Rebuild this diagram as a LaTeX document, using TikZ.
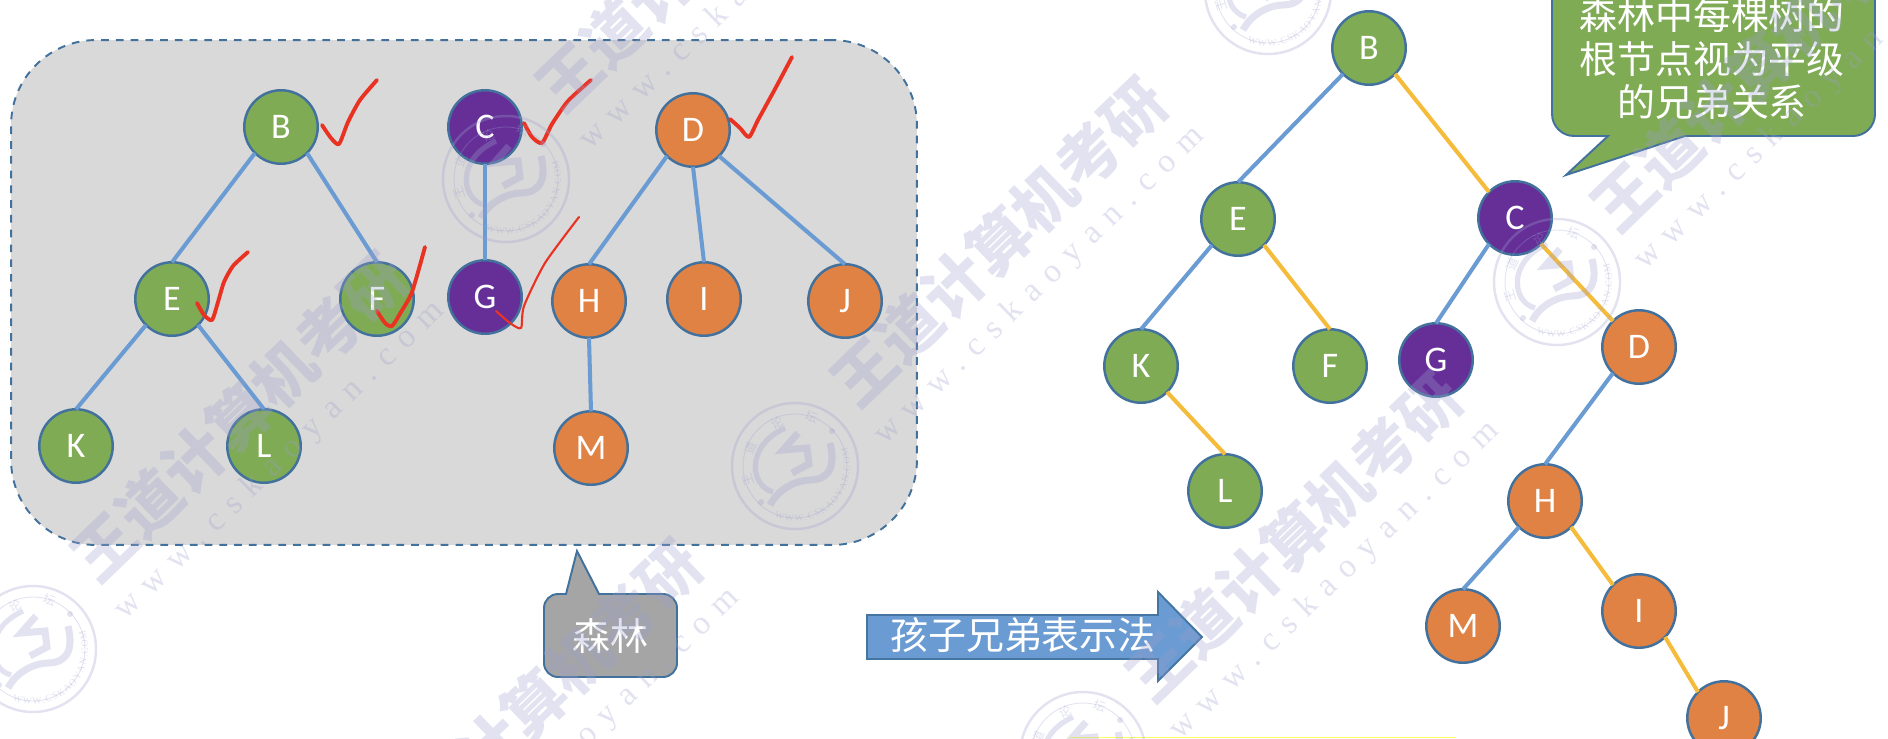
\documentclass[tikz,border=0pt]{standalone}
\usepackage{fontspec}
\setmainfont{Carlito}
\newfontfamily\cjk{Noto Sans CJK SC}
\newfontfamily\markfont[LetterSpace=35]{Liberation Serif}
\newfontfamily\sealfont{Liberation Serif}
\usepackage{xcolor}
\usepackage{tikz}
\usetikzlibrary{decorations.text}
\definecolor{nodeline}{RGB}{65,113,156}
\definecolor{leafgreen}{RGB}{127,171,85}
\definecolor{rootpurple}{RGB}{102,47,152}
\definecolor{treeorange}{RGB}{223,130,68}
\definecolor{childblue}{RGB}{106,155,210}
\definecolor{siblingyellow}{RGB}{244,188,58}
\definecolor{panelgrey}{RGB}{217,217,217}
\definecolor{calloutgrey}{RGB}{165,165,165}
\definecolor{tickred}{RGB}{234,50,35}
\definecolor{markblue}{RGB}{158,160,205}
\definecolor{boxyellow}{RGB}{255,255,100}
\tikzset{
  tnode/.style={circle, draw=nodeline, line width=1.4pt, minimum size=1.47cm, inner sep=0pt, outer sep=0pt, text=white, font=\fontsize{20.5}{20}\selectfont},
  gn/.style={tnode, fill=leafgreen},
  pn/.style={tnode, fill=rootpurple},
  on/.style={tnode, fill=treeorange},
  child/.style={draw=childblue, line width=2.3pt},
  sibling/.style={draw=siblingyellow, line width=2.3pt},
  redtick/.style={draw=tickred, line width=2.2pt, line cap=round, line join=round},
  callout/.style={draw=nodeline, line width=1.1pt},
  calltext/.style={text=white, font=\cjk\fontsize{21.6}{25}\selectfont, align=center, inner sep=0pt},
}
% one watermark seal: name, x, y
\newcommand{\sealmark}[3]{
  \draw[markblue, line width=1.4pt] (#2,#3) circle [radius = 63];
  \draw[markblue, line width=.5pt] (#2,#3) circle [radius = 52];
  \draw[markblue, line width=3pt] (#2-10,#3-38) .. controls (#2-50,#3-20) and (#2-45,#3+20) .. (#2-22,#3+26);
  \draw[markblue, line width=4pt] (#2+35,#3-23) .. controls (#2+42,#3+5) and (#2+30,#3+14) .. (#2+15,#3+14) .. controls (#2+5,#3+14) and (#2-15,#3+20) .. (#2-25,#3+39);
  \draw[markblue, line width=4pt] (#2+3,#3-33) -- (#2-12,#3-16) -- (#2+12,#3-18) -- (#2+14,#3-2) -- (#2-3,#3+7);
  \fill[markblue] (#2+37,#3-35) circle [radius = 3];
  \fill[markblue] (#2-34,#3+36) circle [radius = 3];
  \foreach \c/\dx/\dy/\r in {wang/-47/14/107, dao/-45/-18/68, lun/-18/-43/23, tan/17/-49/-19}{
    \node[rotate=\r, text=markblue, inner sep=0pt, font=\cjk\fontsize{7}{7}\selectfont] (#1\c) at (#2+\dx,#3+\dy) {\ifx\c\wangname 王\fi\ifx\c\daoname 道\fi\ifx\c\lunname 论\fi\ifx\c\tanname 坛\fi};
  }
  \path[postaction={decorate, decoration={text along path, text align={fit to path}, text color=markblue,
    text={|\sealfont\fontsize{5.5}{6}\selectfont|WWW.CSKAOYAN.COM}}}] (#2,#3) ++(112:55) arc [start angle=112, end angle=-20, radius=55];
}
\def\wangname{wang}\def\daoname{dao}\def\lunname{lun}\def\tanname{tan}
\begin{document}
\begin{tikzpicture}[x=.02cm, y=-.02cm]
\clip (0,0) rectangle (1888,738);

% the forest
\node[draw=nodeline, line width=1.1pt, fill=panelgrey, dash pattern=on 4.4pt off 4pt, rounded corners=1.7cm, minimum width=18.12cm, minimum height=10.1cm, inner sep=0pt] (forest) at (464,292.5) {};

\node[gn] (lB) at (281,127) {B};
\node[pn] (lC) at (485,127) {C};
\node[on] (lD) at (693,130) {D};
\node[gn] (lE) at (172,299) {E};
\node[gn] (lF) at (377,299) {F};
\node[pn] (lG) at (485,297) {G};
\node[on] (lH) at (589,301) {H};
\node[on] (lI) at (704,299) {I};
\node[on] (lJ) at (845,301) {J};
\node[gn] (lK) at (76,446) {K};
\node[gn] (lL) at (264,446) {L};
\node[on] (lM) at (591,448) {M};

\draw[child] (lB.south west) -- (lE.north);
\draw[child] (lB.south east) -- (lF.north);
\draw[child] (lC.south) -- (lG.north);
\draw[child] (lD.south west) -- (lH.north);
\draw[child] (lD.south) -- (lI.north);
\draw[child] (lD.south east) -- (lJ.north);
\draw[child] (lE.south west) -- (lK.north);
\draw[child] (lE.south east) -- (lL.north);
\draw[child] (lH.south) -- (lM.north);

% hand drawn ticks
\draw[redtick] plot[smooth, tension=.4] coordinates {(322,125) (331,138) (339,144) (348,122) (360,100) (377,80)};
\draw[redtick] plot[smooth, tension=.4] coordinates {(524,123) (532,137) (542,143) (552,124) (568,101) (591,80)};
\draw[redtick] plot[smooth, tension=.4] coordinates {(730,119) (740,128) (749,137) (758,120) (775,89) (792,57)};
\draw[redtick] plot[smooth, tension=.4] coordinates {(197,303) (204,315) (212,320) (218,302) (224,282) (233,266) (248,252)};
\draw[redtick] plot[smooth, tension=.4] coordinates {(377,311) (385,323) (392,326) (401,312) (412,292) (425,247)};
\draw[redtick, line width=1.2pt] plot[smooth, tension=.4] coordinates {(496,311) (510,323) (521,328) (524,306) (545,263) (579,217)};

% callout of the forest
\draw[callout, fill=calloutgrey] (566,594) -- (577,551) -- (599,594) [rounded corners=.28cm] -- (677,594) -- (677,677) -- (544,677) -- (544,594) [sharp corners] -- cycle;
\node[calltext] (sen) at (610,636) {森林};

% arrow to the binary tree
\draw[line width=1.1pt, draw=nodeline!90!childblue, fill=childblue] (867,615) -- (1158,615) -- (1158,592) -- (1202,637) -- (1158,681) -- (1158,659) -- (867,659) -- cycle;
\node[calltext] (repr) at (1023,635) {孩子兄弟表示法};

% the binary tree
\node[gn] (rB) at (1369,48) {B};
\node[gn] (rE) at (1238,219) {E};
\node[pn] (rC) at (1515,218) {C};
\node[gn] (rK) at (1141,366) {K};
\node[gn] (rF) at (1330,366) {F};
\node[pn] (rG) at (1436,360) {G};
\node[on] (rD) at (1639,347) {D};
\node[gn] (rL) at (1225,491) {L};
\node[on] (rH) at (1545,501) {H};
\node[on] (rM) at (1463,626) {M};
\node[on] (rI) at (1639,611) {I};
\node[on] (rJ) at (1724,718) {J};

\draw[child] (rB.south west) -- (rE.north);
\draw[sibling] (rB.south east) -- (rC.north west);
\draw[child] (rE.south west) -- (rK.north);
\draw[sibling] (rE.south east) -- (rF.north);
\draw[child] (rC.south west) -- (rG.north);
\draw[sibling] (rC.south east) -- (rD.north west);
\draw[sibling] (rK.south east) -- (rL.north);
\draw[child] (rD.south west) -- (rH.north);
\draw[child] (rH.south west) -- (rM.north);
\draw[sibling] (rH.south east) -- (rI.north west);
\draw[sibling] (rI.south east) -- (rJ.north west);

% green callout
\draw[callout, fill=leafgreen] (1608,136) -- (1566,175) -- (1685,136) [rounded corners=.44cm] -- (1875,136) -- (1875,-50) -- (1552,-50) -- (1552,136) [sharp corners] -- cycle;
\node[calltext] (peers) at (1712,58.5) {森林中每棵树的\\根节点视为平级\\的兄弟关系};

\draw[draw=boxyellow, line width=.8pt] (1070,737.7) -- (1456,737.7);

% watermark
\begin{scope}[opacity=.3]
\foreach \i/\x/\y in {a/239/417, b/704/-53, c/999/242, d/1759/67, e/534/704, f/1294/537}{
  \node[rotate=44, text=markblue, inner sep=0pt, font=\cjk\bfseries\fontsize{35.4}{36}\selectfont] (mark\i) at (\x,\y) {王道计算机考研};
  \node[rotate=44, text=markblue, inner sep=0pt, font=\markfont\fontsize{19}{19}\selectfont] (site\i) at (\x+41,\y+44) {www.cskaoyan.com};
}
\sealmark{sa}{506}{179}
\sealmark{sb}{795}{466}
\sealmark{sc}{33}{649}
\sealmark{sd}{1557}{282}
\sealmark{se}{1268}{-9}
\sealmark{sf}{1083}{755}
\end{scope}
\end{tikzpicture}
\end{document}
